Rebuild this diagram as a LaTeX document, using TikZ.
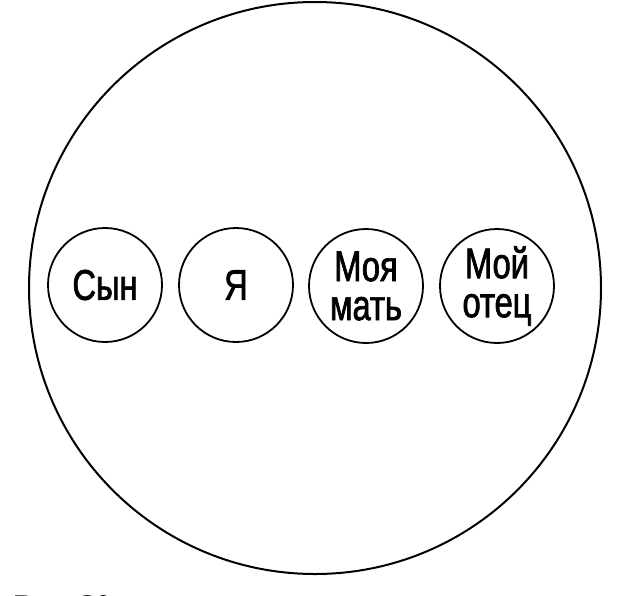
\documentclass[tikz,border=0pt]{standalone}
\usepackage{fontspec}
\newfontfamily\narrowsans{Liberation Sans}[FakeStretch=0.76, FakeBold=1.6]
\newfontfamily\captionserif{Liberation Serif}

\begin{document}
\begin{tikzpicture}[x = 1pt, y = -1pt,
	person/.style = {draw, line width = 1.8pt, circle, minimum size = 114pt, inner sep = 0pt, align = center, font = \narrowsans\fontsize{43}{39}\selectfont}]
	 \clip (0, 0) rectangle (629, 595);
	 \fill[white] (0, 0) rectangle (629, 595);

	 \draw[line width = 2pt] (315, 288) circle (286pt);

	 \node[person] (son) at (105, 285) {Сын};
	 \node[person] (me) at (236, 285) {Я};
	 \node[person] (mother) at (366, 286) {Моя\\мать};
	 \node[person] (father) at (497, 286) {Мой\\отец};

	 \node[anchor = base west, font = \captionserif\bfseries\fontsize{30}{30}\selectfont] (caption) at (11, 615) {Рис. 20};
\end{tikzpicture}
\end{document}
